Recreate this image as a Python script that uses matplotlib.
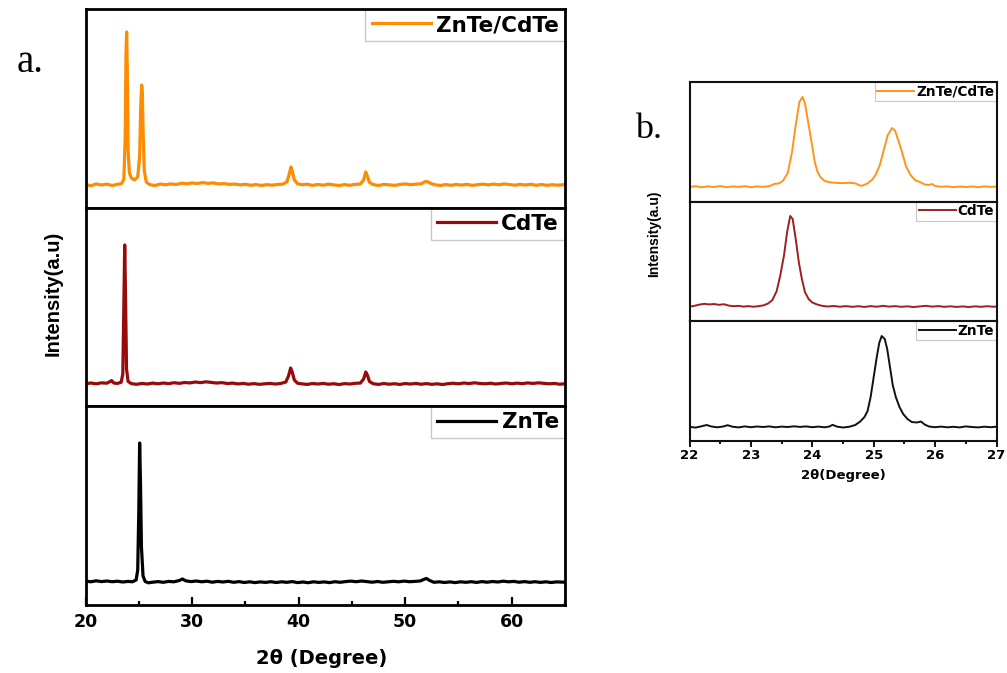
import matplotlib
matplotlib.use("Agg")
import matplotlib.pyplot as plt
from matplotlib.ticker import MultipleLocator
from matplotlib.font_manager import FontProperties

# ---------------- data: panel a (full scan) ----------------
a_x_zc = [20.0, 20.5, 21.0, 21.5, 22.0, 22.5, 23.0, 23.4, 23.6, 23.72, 23.8, 23.86, 23.92, 24.0,
          24.12, 24.3, 24.6, 24.9, 25.08, 25.18, 25.27, 25.33, 25.42, 25.52, 25.7, 26.0, 26.5,
          27.0, 27.5, 28.0, 28.5, 29.0, 29.5, 30.0, 30.5, 31.0, 31.5, 32.0, 32.5, 33.0, 33.5,
          34.0, 34.5, 35.0, 35.5, 36.0, 36.5, 37.0, 37.5, 38.0, 38.5, 38.9, 39.1, 39.28, 39.42,
          39.6, 39.9, 40.3, 40.8, 41.3, 41.8, 42.3, 42.8, 43.3, 43.8, 44.3, 44.8, 45.3, 45.8,
          46.1, 46.3, 46.45, 46.65, 47.0, 47.5, 48.0, 48.5, 49.0, 49.5, 50.0, 50.5, 51.0, 51.5,
          51.85, 52.05, 52.4, 52.8, 53.3, 53.8, 54.3, 54.8, 55.3, 55.8, 56.3, 56.8, 57.3, 57.8,
          58.3, 58.8, 59.3, 59.8, 60.3, 60.8, 61.3, 61.8, 62.3, 62.8, 63.3, 63.8, 64.3, 65.0]
a_y_zc = [0.5, -0.8, 1.0, 0.0, 0.8, -0.5, 0.6, 1.5, 6, 45, 130, 153, 118, 35,
          12, 7, 5, 8, 28, 78, 100, 94, 48, 14, 3, 0.5, -0.6,
          0.9, 0.2, 1.1, 0.4, 1.8, 1.2, 2.0, 1.5, 2.4, 1.6, 2.1, 1.0, 1.4, 0.6,
          0.9, 0.1, 0.7, -0.3, 0.4, -0.5, 0.3, -0.2, 0.5, 0.8, 3, 10, 18, 13,
          5, 1.2, 0.2, 0.7, -0.4, 0.5, -0.2, 0.8, 0.1, -0.6, 0.4, -0.3, 0.6, 0.9,
          5, 13, 9, 2.5, 0.4, -0.5, 0.6, 0.1, -0.4, 0.5, 1.0, 0.3, 0.8, 1.2,
          3.2, 3.5, 1.5, 0.2, -0.5, 0.4, -0.3, 0.5, -0.1, 0.6, -0.4, 0.3, 0.8, 0.1,
          0.9, 0.2, 1.0, 0.4, -0.2, 0.6, 0.0, 0.7, -0.3, 0.5, -0.4, 0.3, -0.2, 0.4]

a_x_cd = [20.0, 20.5, 21.0, 21.5, 22.0, 22.3, 22.45, 22.65, 23.0, 23.35, 23.5, 23.6, 23.68, 23.76,
          23.85, 24.0, 24.3, 24.8, 25.3, 25.8, 26.3, 26.8, 27.3, 27.8, 28.3, 28.8, 29.3, 29.8,
          30.3, 30.8, 31.3, 31.8, 32.3, 32.8, 33.3, 33.8, 34.3, 34.8, 35.3, 35.8, 36.3, 36.8,
          37.3, 37.8, 38.3, 38.8, 39.05, 39.25, 39.4, 39.6, 39.9, 40.3, 40.8, 41.3, 41.8, 42.3,
          42.8, 43.3, 43.8, 44.3, 44.8, 45.3, 45.8, 46.1, 46.3, 46.45, 46.65, 47.0, 47.5, 48.0,
          48.5, 49.0, 49.5, 50.0, 50.5, 51.0, 51.5, 52.0, 52.5, 53.0, 53.5, 54.0, 54.5, 55.0,
          55.5, 56.0, 56.5, 57.0, 57.5, 58.0, 58.5, 59.0, 59.5, 60.0, 60.5, 61.0, 61.5, 62.0,
          62.5, 63.0, 63.5, 64.0, 64.5, 65.0]
a_y_cd = [0.3, 1.0, 0.2, 1.2, 0.8, 2.5, 3.5, 1.0, 0.6, 1.8, 10, 80, 139, 85,
          15, 2.5, 0.4, -0.3, 0.6, 0.0, 0.9, 0.2, 1.0, 0.4, 1.3, 0.7, 1.5, 1.1,
          2.0, 1.4, 2.2, 1.6, 1.0, 1.4, 0.5, 0.9, 0.1, 0.6, -0.2, 0.4, -0.3, 0.2,
          0.6, 0.0, 0.5, 2.0, 8, 16, 12, 4, 0.8, 0.2, -0.4, 0.5, 0.0, 0.6,
          -0.2, 0.3, -0.5, 0.4, 0.0, 0.7, 1.0, 5, 12, 9, 2.5, 0.3, -0.4, 0.5,
          -0.2, 0.3, -0.4, 0.5, 0.0, 0.6, -0.2, 0.4, -0.3, 0.2, -0.5, 0.3, 0.8, 0.2,
          1.0, 0.5, 1.2, 0.6, 0.2, 0.8, 0.0, 0.6, 1.0, 0.3, 0.9, 0.4, 1.1, 0.6,
          1.2, 0.7, 0.2, 0.6, -0.2, 0.3]

a_x_zn = [20.0, 20.5, 21.0, 21.5, 22.0, 22.5, 23.0, 23.5, 24.0, 24.4, 24.75, 24.9, 25.0, 25.08,
          25.16, 25.25, 25.4, 25.6, 25.9, 26.3, 26.8, 27.3, 27.8, 28.3, 28.8, 29.1, 29.4, 29.9,
          30.4, 30.9, 31.4, 31.9, 32.4, 32.9, 33.4, 33.9, 34.4, 34.9, 35.4, 35.9, 36.4, 36.9,
          37.4, 37.9, 38.4, 38.9, 39.4, 39.9, 40.4, 40.9, 41.4, 41.9, 42.4, 42.9, 43.4, 43.9,
          44.4, 44.9, 45.4, 45.9, 46.4, 46.9, 47.4, 47.9, 48.4, 48.9, 49.4, 49.9, 50.4, 50.9,
          51.4, 51.8, 52.0, 52.3, 52.7, 53.2, 53.7, 54.2, 54.7, 55.2, 55.7, 56.2, 56.7, 57.2,
          57.7, 58.2, 58.7, 59.2, 59.7, 60.2, 60.7, 61.2, 61.7, 62.2, 62.7, 63.2, 63.7, 64.2, 65.0]
a_y_zn = [1.0, 0.2, 1.2, 0.4, 1.0, 0.3, 0.8, 0.0, 0.6, 0.2, 2.0, 12, 70, 139,
          100, 35, 6, 0.5, -0.8, -0.2, 0.4, -0.3, 0.6, 0.2, 1.5, 3.0, 1.2, 0.4,
          1.0, 0.2, 0.8, -0.2, 0.6, 0.0, 0.7, -0.3, 0.4, -0.5, 0.2, -0.6, 0.1, -0.4,
          0.3, -0.5, 0.2, -0.3, 0.4, -0.6, 0.0, -0.7, 0.2, -0.4, 0.1, -0.6, 0.3, -0.3,
          0.4, 0.9, 0.3, 1.0, 0.4, -0.2, 0.5, -0.3, 0.2, 0.7, 0.2, 0.9, 0.3, 0.6,
          1.0, 2.8, 3.5, 1.5, -0.3, 0.2, -0.5, 0.1, -0.6, 0.2, -0.3, 0.3, -0.4, 0.4,
          -0.2, 0.5, 0.0, 0.8, 0.2, 0.6, -0.2, 0.4, -0.3, 0.3, -0.4, 0.2, -0.5, 0.1, -0.2]

# ---------------- data: panel b (zoomed 22-27 deg) ----------------
b_x_zc = [22.0, 22.1, 22.2, 22.3, 22.4, 22.5, 22.6, 22.7, 22.8, 22.9, 23.0, 23.1, 23.2, 23.3,
          23.38, 23.45, 23.52, 23.6, 23.67, 23.73, 23.79, 23.84, 23.88, 23.94, 23.99, 24.04,
          24.08, 24.13, 24.2, 24.3, 24.4, 24.5, 24.6, 24.7, 24.8, 24.9, 24.97, 25.03, 25.1,
          25.16, 25.23, 25.3, 25.35, 25.41, 25.47, 25.53, 25.6, 25.67, 25.75, 25.83, 25.9,
          25.95, 26.0, 26.1, 26.2, 26.3, 26.4, 26.5, 26.6, 26.7, 26.8, 26.9, 27.0]
b_y_zc = [0.0, 0.8, -0.3, 0.6, 0.0, 0.9, -0.2, 0.5, 0.1, 0.8, -0.2, 0.6, 0.1, 0.7,
          3.0, 3.5, 6, 14, 35, 62, 85, 90, 84, 62, 44, 25,
          16, 10, 6, 4.5, 4.0, 3.8, 4.2, 3.6, 1.0, 3.5, 7, 12, 22,
          36, 52, 59, 56, 45, 33, 20, 12, 7, 5, 2.5, 2.0,
          3.0, 1.0, 0.2, 0.6, -0.2, 0.4, 0.0, 0.5, -0.2, 0.6, 0.1, 0.4]

b_x_cd = [22.0, 22.08, 22.16, 22.24, 22.32, 22.4, 22.48, 22.56, 22.64, 22.72, 22.8, 22.88,
          22.96, 23.04, 23.12, 23.2, 23.28, 23.35, 23.42, 23.48, 23.54, 23.59, 23.64, 23.68,
          23.73, 23.78, 23.83, 23.88, 23.94, 24.0, 24.08, 24.16, 24.25, 24.35, 24.45, 24.55,
          24.65, 24.75, 24.85, 24.95, 25.05, 25.15, 25.25, 25.35, 25.45, 25.55, 25.65, 25.75,
          25.85, 25.95, 26.05, 26.15, 26.25, 26.35, 26.45, 26.55, 26.65, 26.75, 26.85, 26.95, 27.0]
b_y_cd = [0.4, 1.2, 2.4, 3.2, 2.6, 3.0, 2.2, 2.8, 1.4, 0.8, 1.2, 0.4,
          0.9, 0.3, 0.8, 1.6, 3.5, 7, 16, 32, 52, 75, 91, 88,
          68, 45, 28, 15, 8, 4.5, 2.5, 1.2, 0.5, 1.0, 0.3, 0.9,
          0.2, 0.8, 0.1, 0.9, 0.3, 1.2, 0.4, 0.9, 0.2, 0.7, 0.0, 0.6,
          1.2, 0.4, 0.9, 0.2, 0.7, 0.1, 0.6, 0.0, 0.7, 0.2, 0.8, 0.3, 0.5]

b_x_zn = [22.0, 22.1, 22.2, 22.28, 22.35, 22.45, 22.55, 22.62, 22.7, 22.8, 22.9, 23.0, 23.1,
          23.2, 23.3, 23.4, 23.5, 23.6, 23.7, 23.8, 23.9, 24.0, 24.1, 24.2, 24.28, 24.33, 24.4,
          24.5, 24.6, 24.7, 24.78, 24.85, 24.9, 24.95, 25.0, 25.05, 25.09, 25.13, 25.18, 25.22,
          25.26, 25.31, 25.36, 25.42, 25.48, 25.55, 25.62, 25.7, 25.77, 25.83, 25.9, 26.0,
          26.1, 26.2, 26.3, 26.4, 26.5, 26.6, 26.7, 26.8, 26.9, 27.0]
b_y_zn = [0.2, -0.6, 0.8, 2.0, 0.6, -0.3, 0.5, 1.8, 0.3, -0.4, 0.6, -0.2, 0.5,
          0.0, 0.6, -0.3, 0.4, 0.0, 0.7, 0.1, 0.6, -0.2, 0.4, -0.3, 0.5, 2.2, 0.4,
          -0.5, 0.2, 2.0, 5.5, 10, 16, 30, 50, 70, 84, 91, 88, 78,
          62, 42, 30, 20, 13, 8, 5, 4.5, 5.5, 2.5, 0.5, -0.2,
          0.4, -0.3, 0.2, -0.4, 0.6, 0.0, -0.4, 0.3, -0.2, 0.3]

labels = ["ZnTe/CdTe", "CdTe", "ZnTe"]
colors_a = ["#FF8C00", "#960A0A", "#000000"]
colors_b = ["#FF9419", "#A01E1E", "#111111"]
a_ticks = [20, 30, 40, 50, 60]
b_ticks = [22, 23, 24, 25, 26, 27]

W_PX, H_PX = 1007, 673
fig = plt.figure(figsize=(W_PX / 100, H_PX / 100), dpi=100)

def px_axes(x0, x1, y0, y1):
    return fig.add_axes([x0 / W_PX, 1 - y1 / H_PX, (x1 - x0) / W_PX, (y1 - y0) / H_PX])

bold_dv = dict(family="DejaVu Sans", weight="bold")

# ---------------- panel a ----------------
a_series = [(a_x_zc, a_y_zc), (a_x_cd, a_y_cd), (a_x_zn, a_y_zn)]
a_ylims = [(-22.7, 176.0), (-22.3, 176.3), (-23.0, 175.7)]
a_top, a_bot = 9.0, 605.0
a_h = (a_bot - a_top) / 3
axes_a = []
for i in range(3):
    ax = px_axes(85.5, 565.0, a_top + i * a_h, a_top + (i + 1) * a_h)
    x, y = a_series[i]
    ax.plot(x, y, color=colors_a[i], lw=2.3, label=labels[i], solid_joinstyle="round")
    ax.set_xlim(20, 65)
    ax.set_ylim(*a_ylims[i])
    for s in ax.spines.values():
        s.set_linewidth(2.0)
        s.set_color("black")
    ax.tick_params(left=False, labelleft=False)
    if i < 2:
        ax.tick_params(bottom=False, labelbottom=False)
    leg = ax.legend(loc="upper right", borderaxespad=0, fancybox=False, framealpha=1,
                    edgecolor="#c8c8c8", prop=FontProperties(size=15.5, **bold_dv),
                    handlelength=2.75, handletextpad=0.25, borderpad=0.28)
    leg.get_frame().set_linewidth(1.0)
    leg.set_zorder(2.4)
    axes_a.append(ax)

axb = axes_a[-1]
axb.set_xticks(a_ticks)
axb.xaxis.set_minor_locator(MultipleLocator(5))
axb.tick_params(axis="x", which="major", direction="in", length=5.5, width=1.6, pad=6)
axb.tick_params(axis="x", which="minor", direction="in", length=3, width=1.6)
for lab in axb.get_xticklabels():
    lab.set_fontsize(12.5)
    lab.set_fontweight("bold")
    lab.set_family("DejaVu Sans")

fig.text(322 / W_PX, 1 - 659 / H_PX, "2θ (Degree)", ha="center", va="center",
         fontsize=14, **bold_dv)
fig.text(53 / W_PX, 1 - 293 / H_PX, "Intensity(a.u)", rotation=90, ha="center", va="center",
         family="Liberation Sans", weight="bold", fontsize=14.5)
fig.text(30 / W_PX, 1 - 63 / H_PX, "a.", ha="center", va="center",
         family="Liberation Serif", fontsize=28)

# ---------------- panel b ----------------
b_series = [(b_x_zc, b_y_zc), (b_x_cd, b_y_cd), (b_x_zn, b_y_zn)]
b_ylims = [(-14.7, 105.0), (-14.3, 105.3), (-14.0, 105.7)]
b_top, b_bot = 82.0, 441.0
b_h = (b_bot - b_top) / 3
axes_b = []
for i in range(3):
    ax = px_axes(689.5, 996.5, b_top + i * b_h, b_top + (i + 1) * b_h)
    x, y = b_series[i]
    ax.plot(x, y, color=colors_b[i], lw=1.4, label=labels[i])
    ax.set_xlim(22, 27)
    ax.set_ylim(*b_ylims[i])
    for s in ax.spines.values():
        s.set_linewidth(1.5)
        s.set_color("#111111")
    ax.tick_params(left=False, labelleft=False)
    if i < 2:
        ax.tick_params(bottom=False, labelbottom=False)
    leg = ax.legend(loc="upper right", borderaxespad=0, fancybox=False, framealpha=1,
                    edgecolor="#c8c8c8", prop=FontProperties(size=9.8, **bold_dv),
                    handlelength=2.7, handletextpad=0.15, borderpad=0.18)
    leg.get_frame().set_linewidth(0.8)
    leg.set_zorder(2.4)
    axes_b.append(ax)

axbb = axes_b[-1]
axbb.set_xticks(b_ticks)
axbb.xaxis.set_minor_locator(MultipleLocator(0.5))
axbb.tick_params(axis="x", which="major", direction="out", length=4, width=1.3, pad=2)
axbb.tick_params(axis="x", which="minor", direction="out", length=2.5, width=1.3)
for lab in axbb.get_xticklabels():
    lab.set_fontsize(9.5)
    lab.set_fontweight("bold")
    lab.set_family("DejaVu Sans")

fig.text(843 / W_PX, 1 - 476 / H_PX, "2θ(Degree)", ha="center", va="center",
         fontsize=9.5, **bold_dv)
fig.text(654 / W_PX, 1 - 234 / H_PX, "Intensity(a.u)", rotation=90, ha="center", va="center",
         family="Liberation Sans", weight="bold", fontsize=10)
fig.text(649 / W_PX, 1 - 130 / H_PX, "b.", ha="center", va="center",
         family="Liberation Serif", fontsize=26)

fig.savefig("out.png", dpi=100)
